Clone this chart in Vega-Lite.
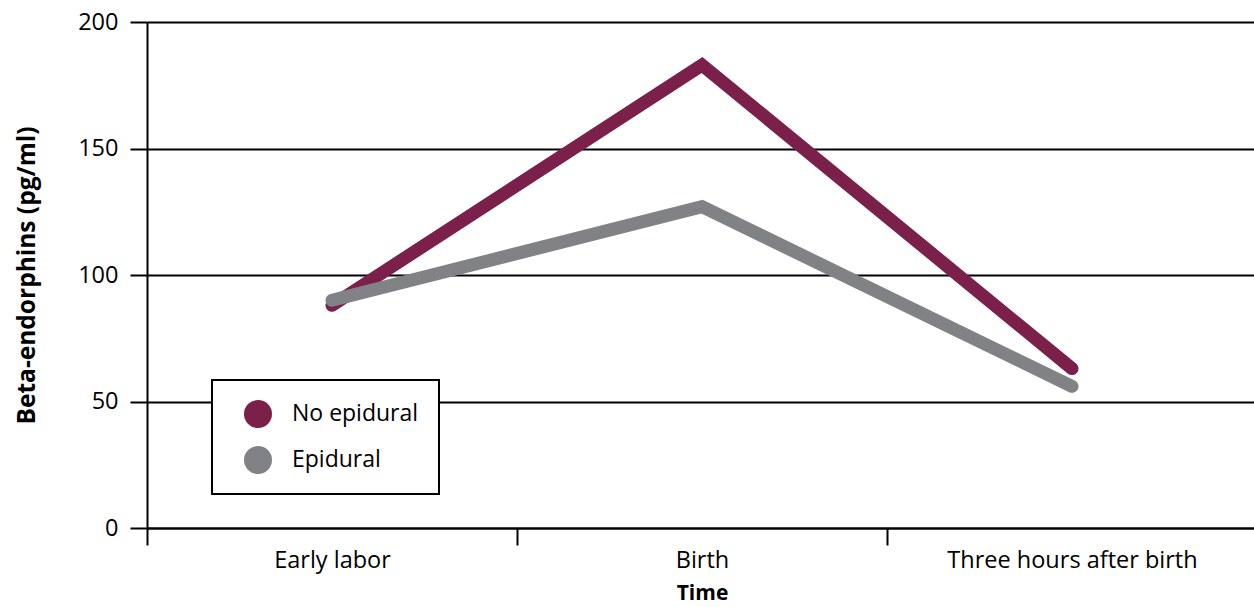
{
  "$schema": "https://vega.github.io/schema/vega-lite/v6.json",
  "width": 1110,
  "height": 506,
  "autosize": {"type": "none"},
  "padding": {"left": 147, "top": 22, "right": 0, "bottom": 79},
  "background": "white",
  "config": {"view": {"stroke": null}, "font": "Open Sans"},
  "data": {
    "values": [
      {"time": "Early labor", "group": "No epidural", "value": 88},
      {"time": "Birth", "group": "No epidural", "value": 183},
      {"time": "Three hours after birth", "group": "No epidural", "value": 63},
      {"time": "Early labor", "group": "Epidural", "value": 90},
      {"time": "Birth", "group": "Epidural", "value": 127},
      {"time": "Three hours after birth", "group": "Epidural", "value": 56}
    ]
  },
  "mark": {"type": "line", "strokeWidth": 13, "strokeCap": "round", "strokeJoin": "miter"},
  "encoding": {
    "x": {
      "field": "time",
      "type": "nominal",
      "sort": ["Early labor", "Birth", "Three hours after birth"],
      "scale": {"type": "band", "paddingInner": 0, "paddingOuter": 0},
      "axis": {
        "title": "Time",
        "labelAngle": 0,
        "labelLimit": 400,
        "tickBand": "extent",
        "domainColor": "black",
        "domainWidth": 2,
        "tickColor": "black",
        "tickWidth": 2,
        "tickSize": 17,
        "labelFontSize": 23.5,
        "labelColor": "black",
        "labelPadding": 3,
        "titleFontSize": 21,
        "titleFontWeight": "bold",
        "titleColor": "black",
        "titlePadding": 11
      }
    },
    "y": {
      "field": "value",
      "type": "quantitative",
      "scale": {"domain": [0, 200], "nice": false},
      "axis": {
        "title": "Beta-endorphins (pg/ml)",
        "values": [0, 50, 100, 150, 200],
        "grid": true,
        "gridColor": "black",
        "gridWidth": 2,
        "gridOpacity": 1,
        "domainColor": "black",
        "domainWidth": 2,
        "tickColor": "black",
        "tickWidth": 2,
        "tickSize": 17,
        "labelFontSize": 23.5,
        "labelColor": "black",
        "labelPadding": 12,
        "titleFontSize": 24.5,
        "titleFontWeight": "bold",
        "titleColor": "black",
        "titlePadding": 38
      }
    },
    "color": {
      "field": "group",
      "type": "nominal",
      "scale": {"domain": ["No epidural", "Epidural"], "range": ["#7B1F4B", "#808285"]},
      "legend": {
        "title": null,
        "orient": "none",
        "legendX": 65,
        "legendY": 358,
        "symbolType": "circle",
        "symbolSize": 784,
        "symbolStrokeWidth": 0,
        "labelFontSize": 23,
        "labelColor": "black",
        "labelOffset": 20,
        "rowPadding": 18,
        "padding": 20,
        "symbolOffset": 12,
        "encode": {
          "legend": {"update": {"stroke": {"value": "black"}, "strokeWidth": {"value": 2}, "fill": {"value": "white"}}},
          "symbols": {"update": {"fill": {"scale": "color", "field": "value"}, "strokeWidth": {"value": 0}}}
        }
      }
    }
  }
}
